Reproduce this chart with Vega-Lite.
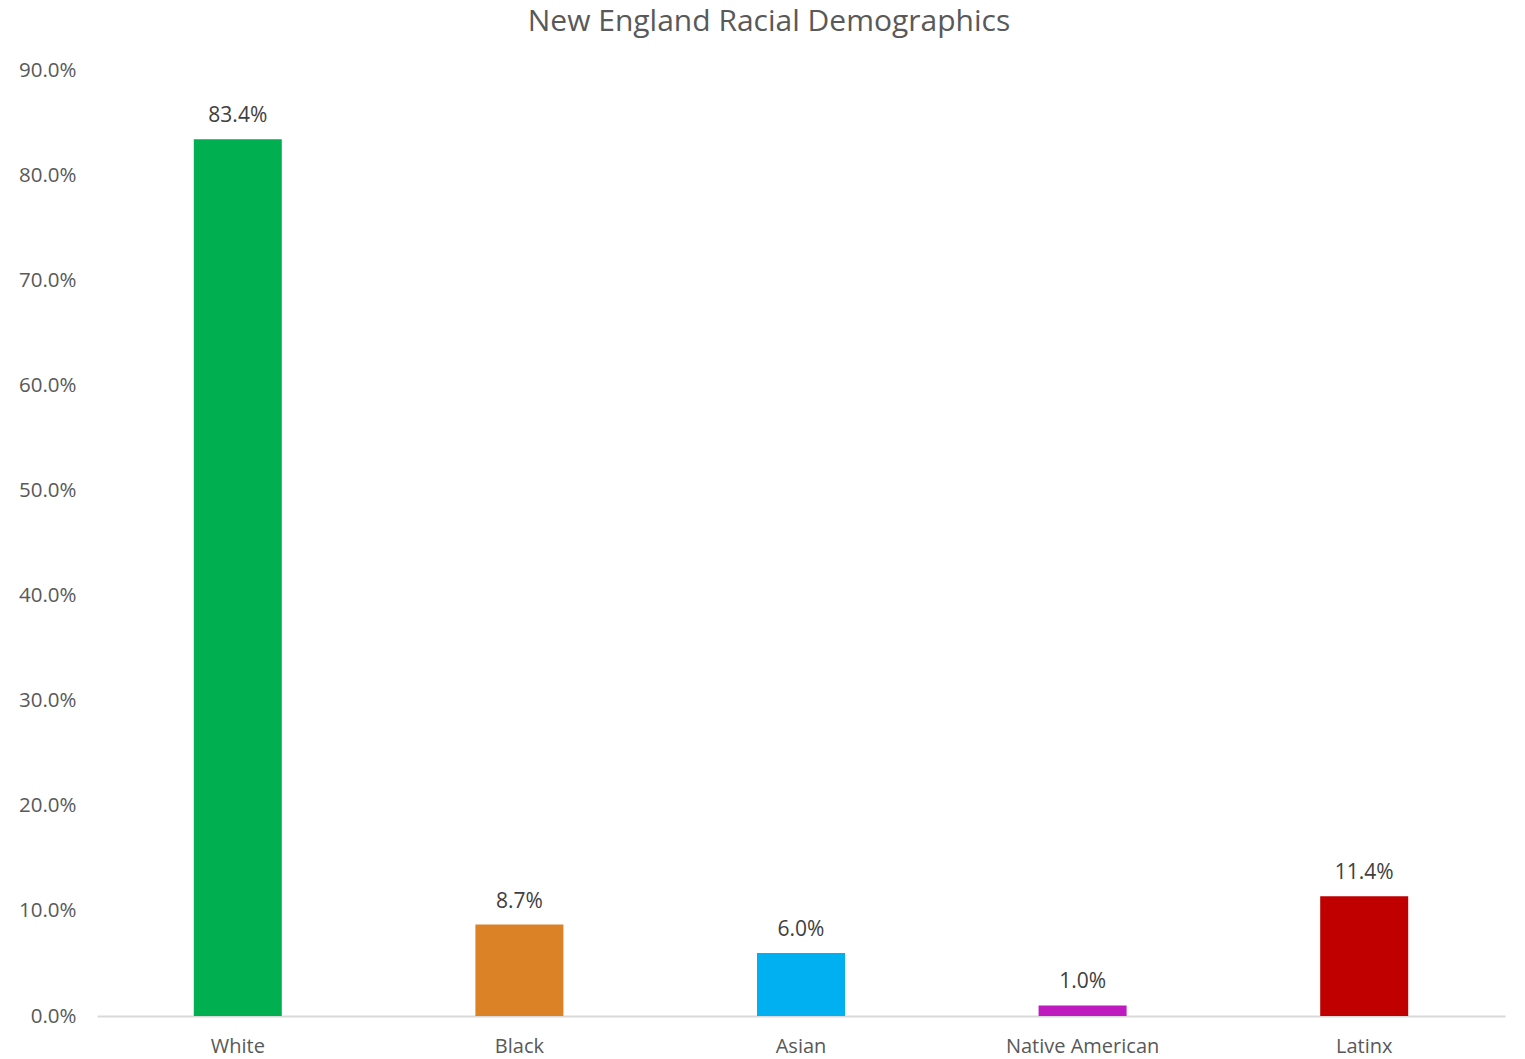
{
  "$schema": "https://vega.github.io/schema/vega-lite/v6.json",
  "width": 1408,
  "height": 946,
  "autosize": {"type": "none"},
  "padding": {"left": 97, "top": 70, "right": 20, "bottom": 43},
  "background": "white",
  "config": {"view": {"stroke": null}},
  "title": {
    "text": "New England Racial Demographics",
    "font": "Open Sans",
    "fontSize": 30,
    "fontWeight": "normal",
    "color": "#595959",
    "anchor": "middle",
    "frame": "group",
    "dx": -32,
    "offset": 23
  },
  "data": {
    "values": [
      {"group": "White", "share": 0.834, "color": "#00B050"},
      {"group": "Black", "share": 0.087, "color": "#DA8225"},
      {"group": "Asian", "share": 0.060, "color": "#00B0F0"},
      {"group": "Native American", "share": 0.010, "color": "#BF1ABF"},
      {"group": "Latinx", "share": 0.114, "color": "#C00000"}
    ]
  },
  "encoding": {
    "x": {
      "field": "group",
      "type": "nominal",
      "sort": null,
      "scale": {"paddingInner": 0, "paddingOuter": 0},
      "axis": {
        "title": null,
        "labelAngle": 0,
        "labelFont": "Open Sans",
        "labelFontSize": 20,
        "labelColor": "#595959",
        "labelPadding": 20,
        "ticks": false,
        "domainColor": "#D9D9D9",
        "domainWidth": 2
      }
    },
    "y": {
      "field": "share",
      "type": "quantitative",
      "scale": {"domain": [0, 0.9], "nice": false},
      "axis": {
        "title": null,
        "format": ".1%",
        "values": [0, 0.1, 0.2, 0.3, 0.4, 0.5, 0.6, 0.7, 0.8, 0.9],
        "grid": false,
        "ticks": false,
        "domain": false,
        "labelFont": "Open Sans",
        "labelFontSize": 20.5,
        "labelColor": "#595959",
        "labelPadding": 21
      }
    }
  },
  "layer": [
    {
      "mark": {"type": "bar", "width": 88},
      "encoding": {
        "color": {"field": "color", "type": "nominal", "scale": null, "legend": null}
      }
    },
    {
      "mark": {
        "type": "text",
        "baseline": "bottom",
        "dy": -13,
        "font": "Open Sans",
        "fontSize": 21,
        "color": "#404040"
      },
      "encoding": {
        "text": {"field": "share", "type": "quantitative", "format": ".1%"}
      }
    }
  ]
}
